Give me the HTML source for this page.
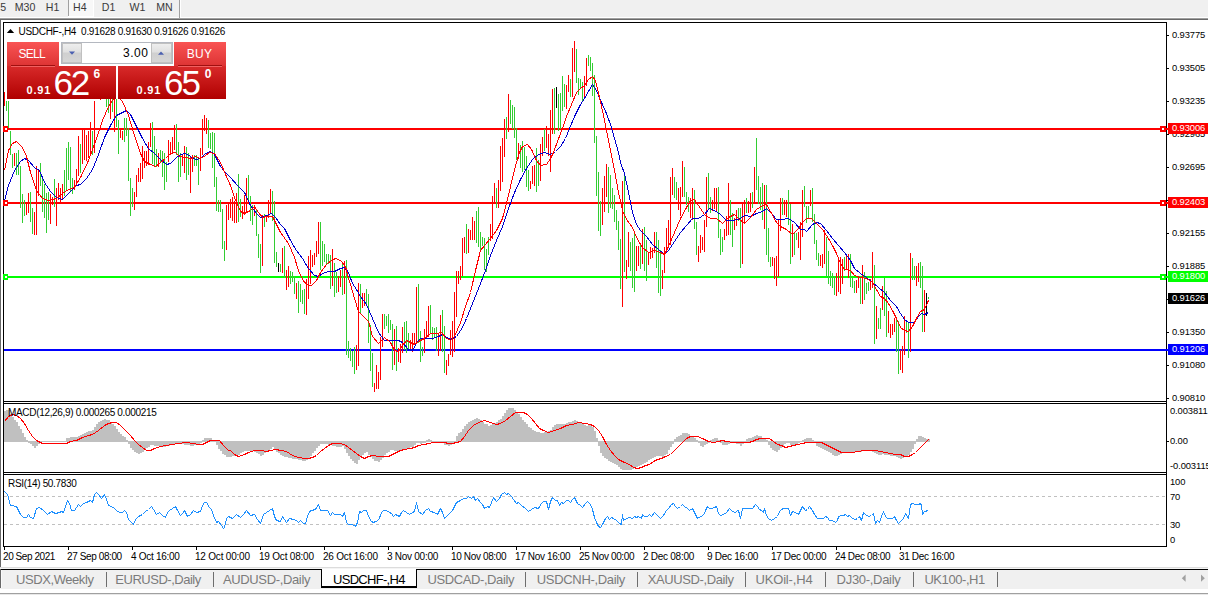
<!DOCTYPE html><html><head><meta charset="utf-8"><title>USDCHF-,H4</title><style>
*{margin:0;padding:0;box-sizing:border-box}
html,body{width:1208px;height:595px;overflow:hidden;background:#fff}
body{position:relative;font-family:"Liberation Sans",sans-serif;color:#000}
.a{position:absolute}
.t{position:absolute;white-space:nowrap;line-height:1}
.ax{position:absolute;white-space:nowrap;line-height:1;font-size:9.4px;left:1172px;letter-spacing:-0.1px}
.dt{position:absolute;white-space:nowrap;line-height:1;font-size:10.4px;top:550px;letter-spacing:-0.25px}
.tb{position:absolute;white-space:nowrap;line-height:1;font-size:10.6px;top:1.8px;color:#3a3a3a}
.tab{position:absolute;white-space:nowrap;line-height:1;font-size:13.6px;top:573px;color:#7b7b7b;letter-spacing:-0.1px}
.sep{position:absolute;top:572px;width:1px;height:15px;background:#6e6e6e}
.pl{position:absolute;left:1168px;width:40px;height:11px;color:#fff;font-size:9.4px;line-height:10px;padding-left:4px;letter-spacing:-0.1px;white-space:nowrap}
</style></head><body>
<div class="a" style="left:0;top:0;width:1208px;height:17px;background:#f0f0f0"></div>
<div class="a" style="left:0;top:18px;width:1208px;height:1px;background:#a0a0a0"></div>
<div class="a" style="left:0;top:19px;width:1208px;height:1px;background:#696969"></div>
<div class="a" style="left:68px;top:0;width:1px;height:16px;background:#a0a0a0"></div>
<div class="a" style="left:68px;top:0;width:26px;height:17px;background:#fff"></div>
<div class="a" style="left:68px;top:0;width:1px;height:16px;background:#a0a0a0"></div>
<div class="a" style="left:69px;top:0;width:24px;height:16px;background:#f8f8f8"></div>
<div class="a" style="left:179px;top:0;width:1px;height:18px;background:#a0a0a0"></div>
<div class="a" style="left:180px;top:0;width:1px;height:18px;background:#fff"></div>
<span class="tb" style="left:0.3px">5</span>
<span class="tb" style="left:14.7px">M30</span>
<span class="tb" style="left:45.8px">H1</span>
<span class="tb" style="left:73px">H4</span>
<span class="tb" style="left:101.8px">D1</span>
<span class="tb" style="left:129.6px">W1</span>
<span class="tb" style="left:156.2px">MN</span>
<div class="a" style="left:0;top:19px;width:1px;height:548px;background:#696969"></div>
<div class="a" style="left:3px;top:22px;width:1164px;height:1px;background:#000"></div>
<div class="a" style="left:3px;top:22px;width:1px;height:525px;background:#000"></div>
<div class="a" style="left:1166px;top:22px;width:1px;height:525px;background:#000"></div>
<div class="a" style="left:3px;top:401px;width:1164px;height:1px;background:#000"></div>
<div class="a" style="left:3px;top:403px;width:1164px;height:1px;background:#000"></div>
<div class="a" style="left:3px;top:472px;width:1164px;height:1px;background:#000"></div>
<div class="a" style="left:3px;top:474px;width:1164px;height:1px;background:#000"></div>
<div class="a" style="left:3px;top:546px;width:1164px;height:1px;background:#000"></div>
<svg class="a" style="left:0;top:0" width="1208" height="595" viewBox="0 0 1208 595">
<g shape-rendering="crispEdges">
<rect x="4" y="128" width="1164" height="2" fill="#ff0000"/>
<rect x="3" y="126" width="5" height="6" fill="#ff0000"/><rect x="5" y="128" width="2" height="2" fill="#fff"/>
<rect x="1160" y="126" width="6" height="6" fill="#ff0000"/><rect x="1162" y="128" width="2" height="2" fill="#fff"/>
<rect x="4" y="202" width="1164" height="2" fill="#ff0000"/>
<rect x="3" y="200" width="5" height="6" fill="#ff0000"/><rect x="5" y="202" width="2" height="2" fill="#fff"/>
<rect x="1160" y="200" width="6" height="6" fill="#ff0000"/><rect x="1162" y="202" width="2" height="2" fill="#fff"/>
<rect x="4" y="276" width="1164" height="2" fill="#00ff00"/>
<rect x="3" y="274" width="5" height="6" fill="#00ff00"/><rect x="5" y="276" width="2" height="2" fill="#fff"/>
<rect x="1160" y="274" width="6" height="6" fill="#00ff00"/><rect x="1162" y="276" width="2" height="2" fill="#fff"/>
<rect x="4" y="349" width="1164" height="2" fill="#0000ff"/>
</g>
<g shape-rendering="crispEdges">
<path d="M6 101v10h1v-10zM8 101v27h1v-27zM10 131v24h1v-24zM12 154v14h1v-14zM16 153v22h1v-22zM18 150v25h1v-25zM20 166v42h1v-42zM22 194v29h1v-29zM24 200v16h1v-16zM30 192v30h1v-30zM32 208v26h1v-26zM40 163v23h1v-23zM42 176v36h1v-36zM44 184v34h1v-34zM46 193v40h1v-40zM48 192v28h1v-28zM54 179v28h1v-28zM64 170v26h1v-26zM66 148v42h1v-42zM68 142v38h1v-38zM70 147v45h1v-45zM72 178v16h1v-16zM80 144v29h1v-29zM92 131v24h1v-24zM102 78v20h1v-20zM106 78v29h1v-29zM108 80v33h1v-33zM112 82v30h1v-30zM116 90v37h1v-37zM118 120v34h1v-34zM124 118v24h1v-24zM126 118v18h1v-18zM128 128v53h1v-53zM130 178v38h1v-38zM132 188v19h1v-19zM152 122v42h1v-42zM154 136v30h1v-30zM156 149v18h1v-18zM160 150v12h1v-12zM162 151v26h1v-26zM164 153v37h1v-37zM166 162v20h1v-20zM176 124v31h1v-31zM178 142v40h1v-40zM180 153v24h1v-24zM186 147v33h1v-33zM188 153v22h1v-22zM194 155v11h1v-11zM196 155v11h1v-11zM198 157v28h1v-28zM208 120v28h1v-28zM210 133v16h1v-16zM212 132v36h1v-36zM214 133v54h1v-54zM216 177v34h1v-34zM218 200v12h1v-12zM220 200v12h1v-12zM222 209v40h1v-40zM224 241v20h1v-20zM238 174v48h1v-48zM240 199v18h1v-18zM248 175v26h1v-26zM250 196v25h1v-25zM252 205v20h1v-20zM256 210v26h1v-26zM258 234v24h1v-24zM260 244v29h1v-29zM264 214v13h1v-13zM272 191v30h1v-30zM274 201v62h1v-62zM276 252v15h1v-15zM280 264v8h1v-8zM284 246v32h1v-32zM290 271v13h1v-13zM292 272v10h1v-10zM294 276v18h1v-18zM298 281v32h1v-32zM300 284v18h1v-18zM302 290v14h1v-14zM304 289v25h1v-25zM320 222v48h1v-48zM322 241v25h1v-25zM324 244v18h1v-18zM326 254v10h1v-10zM328 254v10h1v-10zM330 255v34h1v-34zM334 263v34h1v-34zM336 272v21h1v-21zM342 264v31h1v-31zM346 260v95h1v-95zM348 341v17h1v-17zM350 348v13h1v-13zM352 351v16h1v-16zM354 347v27h1v-27zM360 284v29h1v-29zM366 289v15h1v-15zM368 294v49h1v-49zM370 325v46h1v-46zM372 353v34h1v-34zM384 314v15h1v-15zM386 316v10h1v-10zM388 314v19h1v-19zM390 320v10h1v-10zM392 324v46h1v-46zM396 326v45h1v-45zM404 322v28h1v-28zM406 321v32h1v-32zM408 333v17h1v-17zM418 284v59h1v-59zM420 331v31h1v-31zM422 347v9h1v-9zM430 305v29h1v-29zM432 327v13h1v-13zM434 328v10h1v-10zM436 327v24h1v-24zM442 310v42h1v-42zM444 326v47h1v-47zM466 224v30h1v-30zM476 211v32h1v-32zM478 207v40h1v-40zM480 232v19h1v-19zM482 237v9h1v-9zM484 238v32h1v-32zM486 249v23h1v-23zM488 237v18h1v-18zM496 188v20h1v-20zM506 117v22h1v-22zM510 100v24h1v-24zM512 105v24h1v-24zM514 107v31h1v-31zM516 128v32h1v-32zM520 145v23h1v-23zM522 141v31h1v-31zM524 147v23h1v-23zM526 156v31h1v-31zM528 170v21h1v-21zM536 148v44h1v-44zM538 160v26h1v-26zM544 129v22h1v-22zM554 88v46h1v-46zM558 94v37h1v-37zM560 93v36h1v-36zM562 76v35h1v-35zM564 84v23h1v-23zM570 79v18h1v-18zM576 49v34h1v-34zM578 78v17h1v-17zM580 79v9h1v-9zM582 82v20h1v-20zM588 55v11h1v-11zM590 57v14h1v-14zM592 63v33h1v-33zM594 75v68h1v-68zM596 136v60h1v-60zM598 172v59h1v-59zM600 201v35h1v-35zM608 167v46h1v-46zM610 175v33h1v-33zM612 188v21h1v-21zM614 195v27h1v-27zM616 210v20h1v-20zM618 221v29h1v-29zM620 239v50h1v-50zM624 172v100h1v-100zM630 242v29h1v-29zM632 238v50h1v-50zM634 232v60h1v-60zM640 243v26h1v-26zM644 227v44h1v-44zM646 240v41h1v-41zM656 232v36h1v-36zM658 240v53h1v-53zM660 250v46h1v-46zM674 177v21h1v-21zM676 182v18h1v-18zM684 167v30h1v-30zM686 192v13h1v-13zM688 197v15h1v-15zM694 190v39h1v-39zM696 222v33h1v-33zM708 173v37h1v-37zM710 197v16h1v-16zM718 187v51h1v-51zM720 229v26h1v-26zM722 237v15h1v-15zM730 200v35h1v-35zM732 213v34h1v-34zM738 208v13h1v-13zM740 208v60h1v-60zM746 198v15h1v-15zM752 192v16h1v-16zM756 138v52h1v-52zM758 176v28h1v-28zM760 187v23h1v-23zM762 183v37h1v-37zM766 185v70h1v-70zM768 228v34h1v-34zM770 257v10h1v-10zM782 198v17h1v-17zM788 190v35h1v-35zM790 204v60h1v-60zM794 233v22h1v-22zM796 233v7h1v-7zM804 186v21h1v-21zM806 206v17h1v-17zM808 206v12h1v-12zM812 188v34h1v-34zM814 214v30h1v-30zM816 240v20h1v-20zM818 253v13h1v-13zM826 237v39h1v-39zM828 251v33h1v-33zM830 271v15h1v-15zM832 273v15h1v-15zM834 276v19h1v-19zM844 257v14h1v-14zM850 254v33h1v-33zM852 278v10h1v-10zM854 281v12h1v-12zM860 276v28h1v-28zM864 272v28h1v-28zM866 283v11h1v-11zM868 282v9h1v-9zM874 265v79h1v-79zM878 318v11h1v-11zM880 308v21h1v-21zM884 278v38h1v-38zM886 291v46h1v-46zM896 318v34h1v-34zM898 321v53h1v-53zM906 322v11h1v-11zM908 323v35h1v-35zM912 258v22h1v-22zM914 266v14h1v-14zM920 262v26h1v-26zM922 266v66h1v-66zM928 297v2h1v-2z" fill="#32cd32"/>
<path d="M4 92v14h1v-14zM14 153v13h1v-13zM26 204v11h1v-11zM28 193v20h1v-20zM34 212v23h1v-23zM36 166v69h1v-69zM38 170v26h1v-26zM50 194v30h1v-30zM52 197v8h1v-8zM56 188v38h1v-38zM58 183v17h1v-17zM60 188v16h1v-16zM62 184v16h1v-16zM74 180v10h1v-10zM76 169v17h1v-17zM78 136v40h1v-40zM82 129v35h1v-35zM84 130v30h1v-30zM86 135v26h1v-26zM88 131v27h1v-27zM90 122v33h1v-33zM94 101v52h1v-52zM96 80v18h1v-18zM98 80v18h1v-18zM100 80v20h1v-20zM104 76v22h1v-22zM110 84v35h1v-35zM114 85v47h1v-47zM120 129v9h1v-9zM122 131v9h1v-9zM134 192v18h1v-18zM136 175v22h1v-22zM138 168v14h1v-14zM140 163v19h1v-19zM142 146v33h1v-33zM144 151v17h1v-17zM146 151v15h1v-15zM148 142v23h1v-23zM150 123v24h1v-24zM158 153v14h1v-14zM168 140v22h1v-22zM170 142v13h1v-13zM172 137v16h1v-16zM174 125v25h1v-25zM182 155v11h1v-11zM184 146v27h1v-27zM190 156v37h1v-37zM192 155v17h1v-17zM200 148v23h1v-23zM202 119v36h1v-36zM204 115v16h1v-16zM206 118v16h1v-16zM226 205v45h1v-45zM228 204v16h1v-16zM230 199v19h1v-19zM232 197v24h1v-24zM234 201v22h1v-22zM236 193v30h1v-30zM242 206v13h1v-13zM244 195v20h1v-20zM246 178v35h1v-35zM254 205v11h1v-11zM262 215v51h1v-51zM266 215v7h1v-7zM268 200v18h1v-18zM270 189v25h1v-25zM282 248v25h1v-25zM286 270v20h1v-20zM288 266v21h1v-21zM296 283v16h1v-16zM306 279v36h1v-36zM308 256v43h1v-43zM310 250v34h1v-34zM312 255v12h1v-12zM314 253v12h1v-12zM316 241v16h1v-16zM318 222v32h1v-32zM332 249v37h1v-37zM338 276v16h1v-16zM340 270v17h1v-17zM344 261v33h1v-33zM356 345v25h1v-25zM358 283v83h1v-83zM362 293v15h1v-15zM364 293v13h1v-13zM374 383v9h1v-9zM376 365v24h1v-24zM378 372v17h1v-17zM380 337v43h1v-43zM382 314v33h1v-33zM394 329v36h1v-36zM398 348v14h1v-14zM400 344v19h1v-19zM402 327v26h1v-26zM410 340v11h1v-11zM412 333v19h1v-19zM414 333v12h1v-12zM416 287v56h1v-56zM424 329v24h1v-24zM426 321v18h1v-18zM428 306v31h1v-31zM438 334v22h1v-22zM440 315v36h1v-36zM446 360v15h1v-15zM448 354v12h1v-12zM450 330v25h1v-25zM452 321v36h1v-36zM454 292v60h1v-60zM456 271v46h1v-46zM458 271v13h1v-13zM460 266v14h1v-14zM462 238v38h1v-38zM464 237v16h1v-16zM468 229v24h1v-24zM470 230v10h1v-10zM472 217v23h1v-23zM474 221v19h1v-19zM490 224v17h1v-17zM492 196v43h1v-43zM494 183v20h1v-20zM498 180v28h1v-28zM500 146v45h1v-45zM502 138v44h1v-44zM504 119v38h1v-38zM508 94v38h1v-38zM518 143v16h1v-16zM530 181v8h1v-8zM532 166v18h1v-18zM534 165v21h1v-21zM540 144v37h1v-37zM542 137v19h1v-19zM546 126v22h1v-22zM548 134v22h1v-22zM550 110v62h1v-62zM552 89v45h1v-45zM566 85v24h1v-24zM568 75v17h1v-17zM572 48v49h1v-49zM574 41v31h1v-31zM584 76v23h1v-23zM586 58v28h1v-28zM602 188v37h1v-37zM604 176v36h1v-36zM606 164v33h1v-33zM622 181v126h1v-126zM626 260v19h1v-19zM628 232v35h1v-35zM636 246v25h1v-25zM638 246v20h1v-20zM642 229v35h1v-35zM648 253v12h1v-12zM650 247v12h1v-12zM652 248v10h1v-10zM654 232v21h1v-21zM662 270v19h1v-19zM664 247v26h1v-26zM666 228v23h1v-23zM668 220v27h1v-27zM670 177v68h1v-68zM672 168v27h1v-27zM678 188v22h1v-22zM680 187v29h1v-29zM682 161v36h1v-36zM690 198v20h1v-20zM692 188v32h1v-32zM698 246v16h1v-16zM700 235v18h1v-18zM702 237v13h1v-13zM704 220v32h1v-32zM706 177v50h1v-50zM712 200v11h1v-11zM714 188v21h1v-21zM716 188v23h1v-23zM724 229v11h1v-11zM726 216v20h1v-20zM728 183v52h1v-52zM734 218v12h1v-12zM736 210v16h1v-16zM742 203v61h1v-61zM744 200v23h1v-23zM748 201v12h1v-12zM750 193v19h1v-19zM754 167v35h1v-35zM764 185v44h1v-44zM772 257v9h1v-9zM774 258v21h1v-21zM776 256v30h1v-30zM778 219v58h1v-58zM780 198v33h1v-33zM784 200v15h1v-15zM786 200v17h1v-17zM792 224v33h1v-33zM798 232v16h1v-16zM800 222v38h1v-38zM802 190v47h1v-47zM810 190v16h1v-16zM820 255v11h1v-11zM822 254v14h1v-14zM824 230v34h1v-34zM836 273v23h1v-23zM838 258v34h1v-34zM840 257v37h1v-37zM842 259v25h1v-25zM846 256v14h1v-14zM848 254v24h1v-24zM856 280v13h1v-13zM858 277v11h1v-11zM862 265v39h1v-39zM870 279v11h1v-11zM872 252v36h1v-36zM876 306v33h1v-33zM882 286v24h1v-24zM888 311v22h1v-22zM890 324v14h1v-14zM892 324v11h1v-11zM894 318v14h1v-14zM900 350v20h1v-20zM902 346v27h1v-27zM904 316v39h1v-39zM910 253v99h1v-99zM916 266v20h1v-20zM918 263v19h1v-19zM924 290v42h1v-42z" fill="#ff0000"/>
<path d="M278 263v9h1v-9zM556 87v21h1v-21zM926 293v23h1v-23z" fill="#000000"/>
</g>
<path d="M4.5 200.5 L8.5 185.5 L14.5 170.5 L20.5 161.5 L24.5 158.5 L28.5 160.5 L34.5 167.5 L39.5 170.5 L44.5 182.5 L50.5 191.5 L56.5 197.5 L62.5 199.5 L66.5 195.5 L70.5 191.5 L76.5 185.5 L80.5 184.5 L86.5 178.5 L92.5 169.5 L98.5 154.5 L104.5 137.5 L110.5 125.5 L116.5 115.5 L122.5 112.5 L126.5 110.5 L130.5 114.5 L136.5 126.5 L142.5 138.5 L148.5 148.5 L154.5 153.5 L160.5 159.5 L166.5 164.5 L170.5 163.5 L176.5 157.5 L180.5 154.5 L185.5 153.5 L190.5 156.5 L195.5 159.5 L200.5 158.5 L205.5 153.5 L210.5 151.5 L214.5 154.5 L220.5 166.5 L225.5 172.5 L230.5 177.5 L238.5 186.5 L244.5 192.5 L250.5 205.5 L256.5 213.5 L260.5 217.5 L266.5 215.5 L271.5 213.5 L275.5 217.5 L280.5 224.5 L284.5 228.5 L290.5 240.5 L296.5 250.5 L302.5 258.5 L308.5 268.5 L314.5 275.5 L318.5 276.5 L322.5 273.5 L328.5 271.5 L334.5 271.5 L340.5 268.5 L344.5 267.5 L348.5 272.5 L352.5 283.5 L356.5 289.5 L360.5 296.5 L366.5 304.5 L372.5 318.5 L378.5 332.5 L384.5 340.5 L390.5 340.5 L398.5 340.5 L402.5 342.5 L408.5 349.5 L412.5 350.5 L416.5 343.5 L420.5 338.5 L426.5 338.5 L432.5 338.5 L438.5 336.5 L442.5 334.5 L446.5 337.5 L450.5 339.5 L456.5 336.5 L462.5 327.5 L466.5 318.5 L470.5 308.5 L478.5 288.5 L485.5 270.5 L490.5 255.5 L496.5 240.5 L502.5 226.5 L508.5 208.5 L514.5 192.5 L520.5 179.5 L526.5 168.5 L532.5 159.5 L538.5 154.5 L544.5 152.5 L550.5 154.5 L555.5 151.5 L560.5 146.5 L565.5 138.5 L569.5 128.5 L574.5 116.5 L580.5 104.5 L584.5 98.5 L588.5 91.5 L592.5 84.5 L596.5 90.5 L601.5 102.5 L606.5 113.5 L610.5 124.5 L614.5 138.5 L618.5 152.5 L620.5 162.5 L624.5 173.5 L628.5 192.5 L632.5 212.5 L636.5 224.5 L640.5 230.5 L646.5 236.5 L652.5 244.5 L658.5 249.5 L664.5 254.5 L668.5 250.5 L674.5 241.5 L680.5 232.5 L686.5 225.5 L692.5 218.5 L698.5 218.5 L704.5 214.5 L709.5 208.5 L714.5 210.5 L720.5 214.5 L726.5 220.5 L732.5 220.5 L738.5 219.5 L744.5 215.5 L750.5 216.5 L756.5 213.5 L762.5 211.5 L766.5 208.5 L770.5 212.5 L776.5 219.5 L782.5 219.5 L788.5 218.5 L794.5 222.5 L800.5 229.5 L804.5 229.5 L806.5 231.5 L812.5 224.5 L816.5 222.5 L820.5 223.5 L826.5 230.5 L832.5 238.5 L838.5 245.5 L844.5 252.5 L850.5 260.5 L854.5 268.5 L860.5 273.5 L866.5 277.5 L872.5 282.5 L878.5 287.5 L884.5 292.5 L890.5 300.5 L896.5 306.5 L900.5 313.5 L904.5 319.5 L908.5 322.5 L914.5 322.5 L918.5 316.5 L921.5 313.5 L924.5 314.5 L928.5 312.5" fill="none" stroke="#0000cd" stroke-width="1" stroke-linejoin="round" shape-rendering="crispEdges"/>
<path d="M4.5 170.5 L8.5 150.5 L12.5 143.5 L16.5 141.5 L22.5 147.5 L26.5 156.5 L30.5 172.5 L36.5 190.5 L42.5 198.5 L48.5 200.5 L56.5 198.5 L62.5 193.5 L68.5 189.5 L74.5 187.5 L80.5 177.5 L88.5 160.5 L96.5 138.5 L102.5 120.5 L108.5 106.5 L112.5 100.5 L117.5 96.5 L122.5 101.5 L128.5 115.5 L134.5 135.5 L140.5 153.5 L144.5 161.5 L150.5 164.5 L155.5 166.5 L160.5 162.5 L165.5 158.5 L170.5 153.5 L175.5 152.5 L179.5 156.5 L185.5 157.5 L190.5 158.5 L195.5 156.5 L200.5 158.5 L205.5 155.5 L209.5 152.5 L214.5 153.5 L220.5 162.5 L225.5 174.5 L230.5 185.5 L234.5 197.5 L240.5 211.5 L244.5 213.5 L250.5 210.5 L254.5 206.5 L258.5 212.5 L262.5 217.5 L266.5 216.5 L272.5 216.5 L276.5 224.5 L280.5 232.5 L288.5 243.5 L294.5 257.5 L298.5 270.5 L302.5 279.5 L306.5 284.5 L311.5 285.5 L316.5 280.5 L320.5 272.5 L326.5 264.5 L332.5 259.5 L336.5 258.5 L341.5 261.5 L345.5 266.5 L348.5 278.5 L350.5 284.5 L354.5 298.5 L358.5 311.5 L364.5 317.5 L368.5 321.5 L372.5 336.5 L378.5 343.5 L381.5 340.5 L384.5 337.5 L390.5 342.5 L394.5 350.5 L398.5 351.5 L402.5 345.5 L406.5 340.5 L410.5 342.5 L414.5 344.5 L418.5 341.5 L424.5 338.5 L430.5 333.5 L436.5 333.5 L441.5 332.5 L445.5 337.5 L450.5 340.5 L454.5 336.5 L460.5 322.5 L465.5 306.5 L470.5 292.5 L475.5 270.5 L480.5 250.5 L490.5 238.5 L496.5 230.5 L502.5 218.5 L508.5 195.5 L512.5 177.5 L516.5 162.5 L519.5 152.5 L522.5 146.5 L527.5 144.5 L531.5 149.5 L536.5 160.5 L540.5 165.5 L546.5 164.5 L550.5 158.5 L553.5 152.5 L557.5 141.5 L562.5 128.5 L566.5 116.5 L571.5 104.5 L576.5 92.5 L580.5 88.5 L584.5 85.5 L588.5 79.5 L592.5 76.5 L595.5 80.5 L599.5 97.5 L603.5 115.5 L606.5 130.5 L610.5 150.5 L614.5 170.5 L618.5 192.5 L622.5 210.5 L626.5 219.5 L632.5 227.5 L636.5 237.5 L642.5 247.5 L648.5 252.5 L654.5 250.5 L660.5 252.5 L664.5 254.5 L668.5 246.5 L674.5 232.5 L680.5 218.5 L686.5 207.5 L690.5 200.5 L694.5 199.5 L698.5 205.5 L704.5 214.5 L710.5 218.5 L716.5 218.5 L722.5 223.5 L728.5 217.5 L734.5 214.5 L738.5 218.5 L744.5 223.5 L750.5 217.5 L756.5 209.5 L762.5 205.5 L766.5 204.5 L770.5 211.5 L776.5 222.5 L780.5 226.5 L786.5 229.5 L792.5 234.5 L798.5 228.5 L802.5 222.5 L806.5 218.5 L811.5 218.5 L816.5 223.5 L822.5 229.5 L828.5 238.5 L832.5 245.5 L836.5 253.5 L840.5 263.5 L844.5 269.5 L850.5 270.5 L854.5 275.5 L860.5 277.5 L866.5 278.5 L872.5 282.5 L876.5 289.5 L880.5 296.5 L884.5 298.5 L888.5 303.5 L892.5 310.5 L896.5 318.5 L900.5 327.5 L904.5 330.5 L908.5 331.5 L912.5 326.5 L916.5 318.5 L920.5 311.5 L924.5 309.5 L928.5 300.5" fill="none" stroke="#ff0000" stroke-width="1" stroke-linejoin="round" shape-rendering="crispEdges"/>
<g shape-rendering="crispEdges">
<path d="M4 411h2v31h-2zM6 410h2v32h-2zM8 410h2v32h-2zM10 414h2v28h-2zM12 417h2v25h-2zM14 420h2v22h-2zM16 422h2v20h-2zM18 426h2v16h-2zM20 429h2v13h-2zM22 433h2v9h-2zM24 437h2v5h-2zM26 440h2v2h-2zM28 441h2v2h-2zM30 441h2v3h-2zM32 441h2v5h-2zM34 441h2v7h-2zM36 441h2v5h-2zM38 441h2v3h-2zM40 441h2v1h-2zM42 441h2v1h-2zM44 441h2v1h-2zM46 441h2v1h-2zM48 441h2v1h-2zM50 441h2v1h-2zM52 441h2v1h-2zM54 441h2v1h-2zM56 441h2v1h-2zM58 441h2v1h-2zM60 441h2v1h-2zM62 441h2v1h-2zM64 441h2v1h-2zM66 438h2v4h-2zM68 438h2v4h-2zM70 437h2v5h-2zM72 437h2v5h-2zM74 437h2v5h-2zM76 437h2v5h-2zM78 436h2v6h-2zM80 435h2v7h-2zM82 434h2v8h-2zM84 433h2v9h-2zM86 432h2v10h-2zM88 431h2v11h-2zM90 431h2v11h-2zM92 430h2v12h-2zM94 427h2v15h-2zM96 424h2v18h-2zM98 422h2v20h-2zM100 421h2v21h-2zM102 420h2v22h-2zM104 419h2v23h-2zM106 420h2v22h-2zM108 420h2v22h-2zM110 422h2v20h-2zM112 424h2v18h-2zM114 426h2v16h-2zM116 429h2v13h-2zM118 432h2v10h-2zM120 434h2v8h-2zM122 436h2v6h-2zM124 437h2v5h-2zM126 440h2v2h-2zM128 441h2v3h-2zM130 441h2v7h-2zM132 441h2v9h-2zM134 441h2v11h-2zM136 441h2v12h-2zM138 441h2v13h-2zM140 441h2v12h-2zM142 441h2v11h-2zM144 441h2v9h-2zM146 441h2v7h-2zM148 441h2v6h-2zM150 441h2v4h-2zM152 441h2v4h-2zM154 441h2v5h-2zM156 441h2v5h-2zM158 441h2v5h-2zM160 441h2v6h-2zM162 441h2v6h-2zM164 441h2v6h-2zM166 441h2v5h-2zM168 441h2v5h-2zM170 441h2v4h-2zM172 441h2v4h-2zM174 441h2v3h-2zM176 441h2v3h-2zM178 441h2v3h-2zM180 441h2v3h-2zM182 441h2v3h-2zM184 441h2v4h-2zM186 441h2v4h-2zM188 441h2v4h-2zM190 441h2v5h-2zM192 441h2v5h-2zM194 441h2v4h-2zM196 441h2v4h-2zM198 441h2v3h-2zM200 441h2v2h-2zM202 440h2v2h-2zM204 438h2v4h-2zM206 438h2v4h-2zM208 438h2v4h-2zM210 438h2v4h-2zM212 440h2v2h-2zM214 441h2v1h-2zM216 441h2v4h-2zM218 441h2v8h-2zM220 441h2v10h-2zM222 441h2v13h-2zM224 441h2v14h-2zM226 441h2v16h-2zM228 441h2v16h-2zM230 441h2v16h-2zM232 441h2v15h-2zM234 441h2v15h-2zM236 441h2v14h-2zM238 441h2v14h-2zM240 441h2v12h-2zM242 441h2v11h-2zM244 441h2v10h-2zM246 441h2v10h-2zM248 441h2v10h-2zM250 441h2v10h-2zM252 441h2v10h-2zM254 441h2v11h-2zM256 441h2v12h-2zM258 441h2v13h-2zM260 441h2v15h-2zM262 441h2v14h-2zM264 441h2v12h-2zM266 441h2v11h-2zM268 441h2v10h-2zM270 441h2v8h-2zM272 441h2v6h-2zM274 441h2v8h-2zM276 441h2v11h-2zM278 441h2v12h-2zM280 441h2v14h-2zM282 441h2v15h-2zM284 441h2v16h-2zM286 441h2v16h-2zM288 441h2v17h-2zM290 441h2v17h-2zM292 441h2v18h-2zM294 441h2v18h-2zM296 441h2v18h-2zM298 441h2v19h-2zM300 441h2v19h-2zM302 441h2v20h-2zM304 441h2v20h-2zM306 441h2v19h-2zM308 441h2v18h-2zM310 441h2v15h-2zM312 441h2v12h-2zM314 441h2v10h-2zM316 441h2v7h-2zM318 441h2v5h-2zM320 441h2v3h-2zM322 441h2v3h-2zM324 441h2v3h-2zM326 441h2v3h-2zM328 441h2v4h-2zM330 441h2v4h-2zM332 441h2v5h-2zM334 441h2v5h-2zM336 441h2v6h-2zM338 441h2v6h-2zM340 441h2v6h-2zM342 441h2v5h-2zM344 441h2v8h-2zM346 441h2v12h-2zM348 441h2v15h-2zM350 441h2v18h-2zM352 441h2v20h-2zM354 441h2v22h-2zM356 441h2v23h-2zM358 441h2v19h-2zM360 441h2v16h-2zM362 441h2v14h-2zM364 441h2v12h-2zM366 441h2v11h-2zM368 441h2v14h-2zM370 441h2v16h-2zM372 441h2v18h-2zM374 441h2v20h-2zM376 441h2v20h-2zM378 441h2v21h-2zM380 441h2v19h-2zM382 441h2v17h-2zM384 441h2v14h-2zM386 441h2v12h-2zM388 441h2v11h-2zM390 441h2v9h-2zM392 441h2v9h-2zM394 441h2v10h-2zM396 441h2v10h-2zM398 441h2v10h-2zM400 441h2v10h-2zM402 441h2v9h-2zM404 441h2v8h-2zM406 441h2v8h-2zM408 441h2v7h-2zM410 441h2v6h-2zM412 441h2v6h-2zM414 441h2v4h-2zM416 441h2v2h-2zM418 441h2v2h-2zM420 441h2v3h-2zM422 441h2v2h-2zM424 441h2v2h-2zM426 440h2v2h-2zM428 439h2v3h-2zM430 440h2v2h-2zM432 441h2v1h-2zM434 441h2v1h-2zM436 441h2v1h-2zM438 441h2v1h-2zM440 441h2v1h-2zM442 441h2v2h-2zM444 441h2v4h-2zM446 441h2v4h-2zM448 441h2v5h-2zM450 441h2v4h-2zM452 441h2v3h-2zM454 441h2v1h-2zM456 436h2v6h-2zM458 433h2v9h-2zM460 432h2v10h-2zM462 429h2v13h-2zM464 426h2v16h-2zM466 424h2v18h-2zM468 422h2v20h-2zM470 421h2v21h-2zM472 420h2v22h-2zM474 419h2v23h-2zM476 418h2v24h-2zM478 419h2v23h-2zM480 420h2v22h-2zM482 422h2v20h-2zM484 424h2v18h-2zM486 424h2v18h-2zM488 426h2v16h-2zM490 425h2v17h-2zM492 424h2v18h-2zM494 423h2v19h-2zM496 422h2v20h-2zM498 420h2v22h-2zM500 419h2v23h-2zM502 416h2v26h-2zM504 413h2v29h-2zM506 410h2v32h-2zM508 408h2v34h-2zM510 408h2v34h-2zM512 408h2v34h-2zM514 410h2v32h-2zM516 412h2v30h-2zM518 414h2v28h-2zM520 417h2v25h-2zM522 420h2v22h-2zM524 422h2v20h-2zM526 424h2v18h-2zM528 427h2v15h-2zM530 428h2v14h-2zM532 430h2v12h-2zM534 431h2v11h-2zM536 432h2v10h-2zM538 432h2v10h-2zM540 433h2v9h-2zM542 433h2v9h-2zM544 432h2v10h-2zM546 432h2v10h-2zM548 431h2v11h-2zM550 430h2v12h-2zM552 427h2v15h-2zM554 425h2v17h-2zM556 424h2v18h-2zM558 424h2v18h-2zM560 424h2v18h-2zM562 424h2v18h-2zM564 424h2v18h-2zM566 423h2v19h-2zM568 422h2v20h-2zM570 422h2v20h-2zM572 421h2v21h-2zM574 420h2v22h-2zM576 421h2v21h-2zM578 422h2v20h-2zM580 423h2v19h-2zM582 424h2v18h-2zM584 425h2v17h-2zM586 426h2v16h-2zM588 425h2v17h-2zM590 424h2v18h-2zM592 427h2v15h-2zM594 431h2v11h-2zM596 438h2v4h-2zM598 441h2v5h-2zM600 441h2v12h-2zM602 441h2v15h-2zM604 441h2v17h-2zM606 441h2v18h-2zM608 441h2v20h-2zM610 441h2v21h-2zM612 441h2v22h-2zM614 441h2v23h-2zM616 441h2v24h-2zM618 441h2v26h-2zM620 441h2v28h-2zM622 441h2v29h-2zM624 441h2v29h-2zM626 441h2v29h-2zM628 441h2v29h-2zM630 441h2v29h-2zM632 441h2v28h-2zM634 441h2v27h-2zM636 441h2v26h-2zM638 441h2v25h-2zM640 441h2v24h-2zM642 441h2v23h-2zM644 441h2v22h-2zM646 441h2v21h-2zM648 441h2v19h-2zM650 441h2v18h-2zM652 441h2v17h-2zM654 441h2v16h-2zM656 441h2v15h-2zM658 441h2v15h-2zM660 441h2v15h-2zM662 441h2v16h-2zM664 441h2v14h-2zM666 441h2v13h-2zM668 441h2v9h-2zM670 441h2v6h-2zM672 441h2v3h-2zM674 439h2v3h-2zM676 437h2v5h-2zM678 436h2v6h-2zM680 435h2v7h-2zM682 433h2v9h-2zM684 433h2v9h-2zM686 433h2v9h-2zM688 434h2v8h-2zM690 436h2v6h-2zM692 437h2v5h-2zM694 438h2v4h-2zM696 440h2v2h-2zM698 441h2v2h-2zM700 441h2v5h-2zM702 441h2v6h-2zM704 441h2v4h-2zM706 441h2v3h-2zM708 441h2v2h-2zM710 440h2v2h-2zM712 439h2v3h-2zM714 438h2v4h-2zM716 438h2v4h-2zM718 440h2v2h-2zM720 441h2v2h-2zM722 441h2v4h-2zM724 441h2v4h-2zM726 441h2v4h-2zM728 441h2v3h-2zM730 441h2v2h-2zM732 441h2v2h-2zM734 441h2v2h-2zM736 441h2v3h-2zM738 441h2v3h-2zM740 441h2v5h-2zM742 441h2v3h-2zM744 441h2v2h-2zM746 439h2v3h-2zM748 438h2v4h-2zM750 438h2v4h-2zM752 437h2v5h-2zM754 436h2v6h-2zM756 435h2v7h-2zM758 436h2v6h-2zM760 436h2v6h-2zM762 438h2v4h-2zM764 439h2v3h-2zM766 440h2v2h-2zM768 441h2v4h-2zM770 441h2v7h-2zM772 441h2v9h-2zM774 441h2v10h-2zM776 441h2v11h-2zM778 441h2v9h-2zM780 441h2v7h-2zM782 441h2v5h-2zM784 441h2v3h-2zM786 441h2v2h-2zM788 441h2v2h-2zM790 441h2v4h-2zM792 441h2v5h-2zM794 441h2v4h-2zM796 441h2v3h-2zM798 441h2v2h-2zM800 441h2v1h-2zM802 440h2v2h-2zM804 439h2v3h-2zM806 438h2v4h-2zM808 438h2v4h-2zM810 438h2v4h-2zM812 440h2v2h-2zM814 441h2v2h-2zM816 441h2v5h-2zM818 441h2v6h-2zM820 441h2v7h-2zM822 441h2v8h-2zM824 441h2v9h-2zM826 441h2v10h-2zM828 441h2v11h-2zM830 441h2v12h-2zM832 441h2v14h-2zM834 441h2v15h-2zM836 441h2v15h-2zM838 441h2v14h-2zM840 441h2v13h-2zM842 441h2v12h-2zM844 441h2v12h-2zM846 441h2v11h-2zM848 441h2v11h-2zM850 441h2v11h-2zM852 441h2v11h-2zM854 441h2v11h-2zM856 441h2v11h-2zM858 441h2v11h-2zM860 441h2v11h-2zM862 441h2v10h-2zM864 441h2v10h-2zM866 441h2v10h-2zM868 441h2v10h-2zM870 441h2v10h-2zM872 441h2v11h-2zM874 441h2v12h-2zM876 441h2v13h-2zM878 441h2v14h-2zM880 441h2v14h-2zM882 441h2v13h-2zM884 441h2v14h-2zM886 441h2v14h-2zM888 441h2v14h-2zM890 441h2v15h-2zM892 441h2v15h-2zM894 441h2v15h-2zM896 441h2v16h-2zM898 441h2v17h-2zM900 441h2v18h-2zM902 441h2v17h-2zM904 441h2v16h-2zM906 441h2v15h-2zM908 441h2v14h-2zM910 441h2v11h-2zM912 441h2v8h-2zM914 441h2v3h-2zM916 439h2v3h-2zM918 436h2v6h-2zM920 436h2v6h-2zM922 437h2v5h-2zM924 438h2v4h-2zM926 439h2v3h-2zM928 439h2v3h-2z" fill="#c0c0c0"/>
</g>
<path d="M4.5 421.5 L8.5 416.5 L12.5 414.5 L16.5 415.5 L20.5 418.5 L24.5 423.5 L28.5 430.5 L32.5 436.5 L36.5 440.5 L42.5 443.5 L50.5 443.5 L58.5 443.5 L66.5 443.5 L70.5 441.5 L76.5 440.5 L82.5 437.5 L88.5 435.5 L92.5 434.5 L98.5 430.5 L104.5 425.5 L108.5 423.5 L112.5 422.5 L116.5 422.5 L120.5 425.5 L126.5 431.5 L130.5 435.5 L134.5 440.5 L138.5 444.5 L142.5 447.5 L146.5 450.5 L150.5 450.5 L154.5 448.5 L160.5 446.5 L166.5 445.5 L172.5 444.5 L178.5 443.5 L186.5 442.5 L192.5 443.5 L198.5 444.5 L202.5 444.5 L206.5 442.5 L210.5 440.5 L215.5 440.5 L219.5 440.5 L223.5 445.5 L228.5 450.5 L230.5 450.5 L234.5 454.5 L238.5 456.5 L244.5 454.5 L248.5 452.5 L254.5 450.5 L260.5 450.5 L266.5 451.5 L270.5 450.5 L276.5 449.5 L280.5 450.5 L286.5 451.5 L292.5 455.5 L298.5 457.5 L304.5 458.5 L308.5 458.5 L312.5 457.5 L316.5 455.5 L320.5 451.5 L324.5 448.5 L328.5 445.5 L332.5 443.5 L338.5 443.5 L344.5 444.5 L348.5 447.5 L352.5 450.5 L356.5 453.5 L360.5 456.5 L364.5 458.5 L368.5 456.5 L372.5 455.5 L378.5 456.5 L384.5 456.5 L388.5 456.5 L392.5 454.5 L396.5 452.5 L400.5 450.5 L404.5 449.5 L410.5 448.5 L414.5 447.5 L418.5 445.5 L424.5 444.5 L428.5 443.5 L434.5 442.5 L440.5 442.5 L444.5 442.5 L448.5 443.5 L452.5 443.5 L456.5 442.5 L460.5 441.5 L464.5 436.5 L468.5 430.5 L473.5 425.5 L478.5 422.5 L484.5 420.5 L490.5 422.5 L496.5 424.5 L500.5 423.5 L505.5 420.5 L510.5 416.5 L515.5 412.5 L519.5 412.5 L523.5 412.5 L527.5 414.5 L531.5 418.5 L535.5 423.5 L539.5 428.5 L543.5 430.5 L548.5 432.5 L554.5 430.5 L560.5 428.5 L566.5 425.5 L572.5 424.5 L578.5 422.5 L584.5 423.5 L590.5 424.5 L594.5 426.5 L598.5 430.5 L602.5 436.5 L606.5 444.5 L610.5 450.5 L614.5 455.5 L618.5 459.5 L624.5 462.5 L629.5 464.5 L633.5 467.5 L637.5 468.5 L641.5 467.5 L645.5 465.5 L649.5 464.5 L653.5 461.5 L657.5 459.5 L661.5 458.5 L665.5 456.5 L670.5 454.5 L674.5 450.5 L678.5 446.5 L682.5 442.5 L686.5 438.5 L690.5 436.5 L694.5 436.5 L697.5 436.5 L702.5 438.5 L708.5 441.5 L713.5 442.5 L718.5 441.5 L722.5 440.5 L726.5 441.5 L732.5 442.5 L738.5 442.5 L744.5 442.5 L748.5 442.5 L752.5 441.5 L756.5 439.5 L760.5 438.5 L764.5 438.5 L769.5 438.5 L773.5 441.5 L777.5 444.5 L781.5 445.5 L785.5 447.5 L789.5 446.5 L793.5 445.5 L797.5 444.5 L802.5 443.5 L806.5 442.5 L812.5 442.5 L817.5 442.5 L821.5 442.5 L825.5 444.5 L829.5 446.5 L833.5 448.5 L837.5 450.5 L841.5 452.5 L846.5 452.5 L852.5 452.5 L858.5 451.5 L863.5 450.5 L869.5 450.5 L875.5 450.5 L880.5 451.5 L885.5 452.5 L890.5 453.5 L895.5 454.5 L900.5 454.5 L904.5 456.5 L908.5 456.5 L912.5 454.5 L915.5 452.5 L918.5 449.5 L921.5 446.5 L925.5 442.5 L928.5 439.5" fill="none" stroke="#ff0000" stroke-width="1" stroke-linejoin="round" shape-rendering="crispEdges"/>
<g shape-rendering="crispEdges">
<line x1="4" y1="496.5" x2="1166" y2="496.5" stroke="#c0c0c0" stroke-width="1" stroke-dasharray="3 3"/>
<line x1="4" y1="524.5" x2="1166" y2="524.5" stroke="#c0c0c0" stroke-width="1" stroke-dasharray="3 3"/>
</g>
<path d="M4.5 491.5 L7.5 494.5 L10.5 505.5 L16.5 506.5 L20.5 514.5 L23.5 517.5 L26.5 517.5 L28.5 514.5 L30.5 517.5 L33.5 518.5 L36.5 508.5 L39.5 507.5 L43.5 510.5 L47.5 514.5 L51.5 511.5 L55.5 513.5 L59.5 512.5 L61.5 511.5 L63.5 512.5 L65.5 506.5 L67.5 500.5 L69.5 503.5 L71.5 510.5 L74.5 510.5 L78.5 504.5 L80.5 506.5 L83.5 503.5 L86.5 502.5 L90.5 500.5 L92.5 502.5 L94.5 494.5 L96.5 492.5 L98.5 494.5 L101.5 498.5 L104.5 494.5 L106.5 499.5 L108.5 505.5 L111.5 506.5 L114.5 508.5 L117.5 511.5 L120.5 512.5 L122.5 512.5 L124.5 510.5 L126.5 512.5 L128.5 519.5 L131.5 522.5 L133.5 524.5 L135.5 519.5 L138.5 516.5 L142.5 514.5 L145.5 511.5 L148.5 509.5 L151.5 506.5 L153.5 509.5 L156.5 514.5 L159.5 512.5 L162.5 515.5 L165.5 517.5 L167.5 512.5 L169.5 510.5 L172.5 508.5 L175.5 506.5 L177.5 510.5 L180.5 515.5 L182.5 513.5 L184.5 510.5 L187.5 516.5 L190.5 514.5 L193.5 510.5 L196.5 512.5 L200.5 511.5 L202.5 505.5 L204.5 502.5 L206.5 502.5 L209.5 507.5 L211.5 509.5 L213.5 515.5 L216.5 522.5 L218.5 521.5 L221.5 525.5 L223.5 528.5 L224.5 527.5 L226.5 518.5 L228.5 516.5 L230.5 517.5 L232.5 518.5 L236.5 514.5 L240.5 517.5 L243.5 514.5 L246.5 510.5 L250.5 515.5 L254.5 514.5 L257.5 519.5 L260.5 523.5 L263.5 514.5 L266.5 512.5 L269.5 510.5 L272.5 508.5 L274.5 516.5 L276.5 520.5 L280.5 521.5 L282.5 516.5 L284.5 519.5 L286.5 522.5 L289.5 518.5 L293.5 519.5 L296.5 520.5 L298.5 522.5 L300.5 520.5 L303.5 523.5 L305.5 523.5 L307.5 516.5 L309.5 511.5 L311.5 510.5 L315.5 509.5 L318.5 504.5 L320.5 510.5 L323.5 510.5 L327.5 510.5 L330.5 515.5 L332.5 512.5 L334.5 514.5 L338.5 514.5 L340.5 514.5 L342.5 516.5 L344.5 512.5 L346.5 522.5 L348.5 524.5 L352.5 524.5 L355.5 526.5 L357.5 522.5 L359.5 511.5 L361.5 512.5 L363.5 510.5 L366.5 510.5 L368.5 516.5 L371.5 521.5 L373.5 522.5 L375.5 521.5 L378.5 520.5 L381.5 512.5 L383.5 510.5 L386.5 510.5 L389.5 512.5 L391.5 513.5 L393.5 516.5 L395.5 514.5 L399.5 516.5 L401.5 512.5 L403.5 510.5 L406.5 512.5 L409.5 514.5 L412.5 512.5 L414.5 511.5 L416.5 502.5 L418.5 511.5 L422.5 514.5 L425.5 510.5 L428.5 508.5 L430.5 511.5 L434.5 512.5 L437.5 514.5 L440.5 508.5 L442.5 512.5 L444.5 518.5 L448.5 514.5 L452.5 510.5 L456.5 502.5 L458.5 501.5 L460.5 500.5 L463.5 498.5 L466.5 498.5 L468.5 496.5 L471.5 498.5 L473.5 496.5 L475.5 500.5 L477.5 498.5 L480.5 502.5 L482.5 504.5 L484.5 508.5 L487.5 506.5 L489.5 507.5 L491.5 502.5 L493.5 497.5 L496.5 501.5 L499.5 498.5 L501.5 494.5 L504.5 492.5 L506.5 494.5 L508.5 493.5 L511.5 496.5 L513.5 499.5 L516.5 503.5 L518.5 502.5 L521.5 505.5 L525.5 508.5 L528.5 511.5 L531.5 509.5 L534.5 507.5 L538.5 508.5 L541.5 503.5 L543.5 501.5 L546.5 501.5 L548.5 509.5 L550.5 501.5 L552.5 497.5 L555.5 500.5 L557.5 500.5 L559.5 505.5 L561.5 502.5 L563.5 503.5 L566.5 500.5 L568.5 500.5 L570.5 502.5 L572.5 499.5 L574.5 497.5 L577.5 503.5 L580.5 505.5 L582.5 507.5 L585.5 503.5 L587.5 501.5 L590.5 504.5 L592.5 509.5 L594.5 517.5 L596.5 522.5 L598.5 526.5 L600.5 527.5 L602.5 524.5 L605.5 518.5 L607.5 516.5 L609.5 519.5 L611.5 517.5 L613.5 518.5 L616.5 520.5 L619.5 523.5 L621.5 524.5 L622.5 514.5 L623.5 520.5 L626.5 518.5 L629.5 517.5 L632.5 518.5 L634.5 516.5 L636.5 517.5 L638.5 516.5 L641.5 518.5 L642.5 514.5 L644.5 516.5 L647.5 516.5 L649.5 514.5 L651.5 516.5 L654.5 512.5 L656.5 514.5 L658.5 516.5 L660.5 518.5 L663.5 515.5 L666.5 510.5 L668.5 508.5 L671.5 504.5 L673.5 503.5 L675.5 506.5 L677.5 508.5 L680.5 506.5 L682.5 504.5 L684.5 506.5 L687.5 508.5 L689.5 510.5 L692.5 508.5 L694.5 512.5 L697.5 518.5 L700.5 516.5 L703.5 515.5 L705.5 510.5 L707.5 506.5 L709.5 508.5 L711.5 508.5 L714.5 507.5 L716.5 506.5 L718.5 513.5 L720.5 515.5 L723.5 514.5 L726.5 512.5 L729.5 508.5 L732.5 511.5 L735.5 512.5 L737.5 510.5 L738.5 510.5 L740.5 518.5 L742.5 508.5 L746.5 508.5 L749.5 508.5 L752.5 508.5 L755.5 504.5 L757.5 506.5 L759.5 509.5 L761.5 510.5 L763.5 512.5 L764.5 508.5 L766.5 515.5 L768.5 518.5 L771.5 520.5 L774.5 518.5 L777.5 516.5 L779.5 511.5 L781.5 509.5 L783.5 508.5 L786.5 508.5 L788.5 508.5 L790.5 515.5 L792.5 511.5 L795.5 512.5 L798.5 514.5 L800.5 510.5 L802.5 506.5 L805.5 510.5 L807.5 509.5 L809.5 506.5 L812.5 510.5 L814.5 514.5 L817.5 518.5 L820.5 518.5 L823.5 518.5 L825.5 516.5 L827.5 517.5 L829.5 520.5 L832.5 520.5 L835.5 522.5 L837.5 520.5 L838.5 516.5 L841.5 515.5 L843.5 515.5 L845.5 514.5 L847.5 516.5 L849.5 515.5 L852.5 518.5 L855.5 519.5 L857.5 518.5 L859.5 516.5 L861.5 520.5 L863.5 512.5 L865.5 514.5 L868.5 516.5 L871.5 515.5 L873.5 513.5 L875.5 523.5 L877.5 520.5 L879.5 522.5 L881.5 516.5 L883.5 511.5 L885.5 516.5 L887.5 518.5 L890.5 518.5 L892.5 518.5 L894.5 516.5 L896.5 520.5 L898.5 523.5 L901.5 520.5 L903.5 518.5 L905.5 513.5 L907.5 516.5 L908.5 518.5 L910.5 504.5 L912.5 503.5 L915.5 504.5 L918.5 504.5 L920.5 503.5 L921.5 505.5 L922.5 514.5 L924.5 511.5 L928.5 510.5" fill="none" stroke="#1e90ff" stroke-width="1" stroke-linejoin="round" shape-rendering="crispEdges"/>
</svg>
<svg class="a" style="left:6px;top:27px" width="10" height="8"><path d="M0.8 5.9 L4.5 2 L8.2 5.9 Z" fill="#000"/></svg>
<span class="t" style="left:18.5px;top:27px;font-size:10px;letter-spacing:-0.292px;color:#000;">USDCHF-,H4&nbsp; 0.91628 0.91630 0.91626 0.91626</span>
<div class="a" style="left:7px;top:42px;width:52px;height:25px;background:linear-gradient(#f95454,#dc3232)"></div>
<div class="a" style="left:174px;top:42px;width:52px;height:25px;background:linear-gradient(#f95454,#dc3232)"></div>
<div class="a" style="left:7px;top:66px;width:109px;height:33px;background:linear-gradient(#d82a2a,#b00000)"></div>
<div class="a" style="left:118px;top:66px;width:108px;height:33px;background:linear-gradient(#d82a2a,#b00000)"></div>
<div class="a" style="left:116px;top:66px;width:2px;height:33px;background:#fff"></div>
<div class="a" style="left:11px;top:65px;width:44px;height:1px;background:#a01010"></div>
<div class="a" style="left:11px;top:66px;width:44px;height:1px;background:#f06060"></div>
<div class="a" style="left:178px;top:65px;width:44px;height:1px;background:#a01010"></div>
<div class="a" style="left:178px;top:66px;width:44px;height:1px;background:#f06060"></div>
<div class="a" style="left:59px;top:42px;width:115px;height:24px;background:#fff"></div>
<div class="a" style="left:61px;top:42px;width:112px;height:22px;background:#fff;border:1px solid #b4b8c0"></div>
<div class="a" style="left:62px;top:43px;width:20px;height:20px;background:linear-gradient(#eeeeee 0%,#e0e0e0 45%,#cfcfcf 50%,#d6d6d6 100%);border:1px solid #c0c0c0"></div>
<div class="a" style="left:151px;top:43px;width:21px;height:20px;background:linear-gradient(#eeeeee 0%,#e0e0e0 45%,#cfcfcf 50%,#d6d6d6 100%);border:1px solid #c0c0c0"></div>
<svg class="a" style="left:67px;top:49px" width="10" height="8"><path d="M2 2.5 L8 2.5 L5 5.8 Z" fill="#4a5fb0"/></svg>
<svg class="a" style="left:156px;top:49px" width="10" height="8"><path d="M2 5.8 L8 5.8 L5 2.5 Z" fill="#4a5fb0"/></svg>
<span class="t" style="left:123px;top:47.4px;font-size:12px;letter-spacing:0.5px">3.00</span>
<span class="t" style="left:18.6px;top:48px;font-size:12px;color:#fff;letter-spacing:-0.75px">SELL</span>
<span class="t" style="left:186.8px;top:48px;font-size:12px;color:#fff;letter-spacing:0.3px">BUY</span>
<span class="t" style="left:26.6px;top:84.6px;font-size:11px;font-weight:bold;color:#fff;letter-spacing:0.8px">0.91</span>
<span class="t" style="left:136.6px;top:84.6px;font-size:11px;font-weight:bold;color:#fff;letter-spacing:0.8px">0.91</span>
<span class="t" style="left:53.4px;top:65px;font-size:35px;color:#fff;letter-spacing:-2px">62</span>
<span class="t" style="left:164px;top:65px;font-size:35px;color:#fff;letter-spacing:-2px">65</span>
<span class="t" style="left:93.5px;top:68px;font-size:12px;font-weight:bold;color:#fff">6</span>
<span class="t" style="left:204.8px;top:68px;font-size:12px;font-weight:bold;color:#fff">0</span>
<div class="a" style="left:1167px;top:35px;width:2px;height:1px;background:#000"></div>
<span class="ax" style="top:30.4px">0.93775</span>
<div class="a" style="left:1167px;top:68px;width:2px;height:1px;background:#000"></div>
<span class="ax" style="top:63.4px">0.93505</span>
<div class="a" style="left:1167px;top:101px;width:2px;height:1px;background:#000"></div>
<span class="ax" style="top:96.4px">0.93235</span>
<div class="a" style="left:1167px;top:134px;width:2px;height:1px;background:#000"></div>
<span class="ax" style="top:129.4px">0.92965</span>
<div class="a" style="left:1167px;top:167px;width:2px;height:1px;background:#000"></div>
<span class="ax" style="top:162.4px">0.92695</span>
<div class="a" style="left:1167px;top:200px;width:2px;height:1px;background:#000"></div>
<div class="a" style="left:1167px;top:233px;width:2px;height:1px;background:#000"></div>
<span class="ax" style="top:228.4px">0.92155</span>
<div class="a" style="left:1167px;top:266px;width:2px;height:1px;background:#000"></div>
<span class="ax" style="top:261.4px">0.91885</span>
<div class="a" style="left:1167px;top:299px;width:2px;height:1px;background:#000"></div>
<div class="a" style="left:1167px;top:332px;width:2px;height:1px;background:#000"></div>
<span class="ax" style="top:327.4px">0.91350</span>
<div class="a" style="left:1167px;top:365px;width:2px;height:1px;background:#000"></div>
<span class="ax" style="top:360.4px">0.91080</span>
<div class="a" style="left:1167px;top:398px;width:2px;height:1px;background:#000"></div>
<span class="ax" style="top:393.4px">0.90810</span>
<div class="pl" style="top:123px;background:#ff0000">0.93006</div>
<div class="pl" style="top:197px;background:#ff0000">0.92403</div>
<div class="pl" style="top:271px;background:#00ff00">0.91800</div>
<div class="pl" style="top:293px;background:#000000">0.91626</div>
<div class="pl" style="top:344px;background:#0000ff">0.91206</div>
<span class="ax" style="top:406px;left:1170px">0.003811</span>
<div class="a" style="left:1167px;top:441px;width:2px;height:1px;background:#000"></div>
<span class="ax" style="top:436px;left:1170px">0.00</span>
<span class="ax" style="top:461px;left:1170px">-0.003115</span>
<span class="ax" style="top:477px;left:1170px">100</span>
<span class="ax" style="top:492px;left:1170px">70</span>
<span class="ax" style="top:519.5px;left:1170px">30</span>
<span class="ax" style="top:535px;left:1170px">0</span>
<span class="t" style="left:8px;top:408px;font-size:10px;letter-spacing:-0.321px;color:#000;">MACD(12,26,9) 0.000265 0.000215</span>
<span class="t" style="left:8px;top:479px;font-size:10px;letter-spacing:-0.325px;color:#000;">RSI(14) 50.7830</span>
<div class="a" style="left:4px;top:547px;width:1px;height:3px;background:#000"></div>
<span class="t" style="left:3px;top:552px;font-size:10px;letter-spacing:-0.429px;color:#000;">20 Sep 2021</span>
<div class="a" style="left:68px;top:547px;width:1px;height:3px;background:#000"></div>
<span class="t" style="left:67px;top:552px;font-size:10px;letter-spacing:-0.392px;color:#000;">27 Sep 08:00</span>
<div class="a" style="left:132px;top:547px;width:1px;height:3px;background:#000"></div>
<span class="t" style="left:131px;top:552px;font-size:10px;letter-spacing:-0.282px;color:#000;">4 Oct 16:00</span>
<div class="a" style="left:196px;top:547px;width:1px;height:3px;background:#000"></div>
<span class="t" style="left:195px;top:552px;font-size:10px;letter-spacing:-0.205px;color:#000;">12 Oct 00:00</span>
<div class="a" style="left:260px;top:547px;width:1px;height:3px;background:#000"></div>
<span class="t" style="left:259px;top:552px;font-size:10px;letter-spacing:-0.205px;color:#000;">19 Oct 08:00</span>
<div class="a" style="left:324px;top:547px;width:1px;height:3px;background:#000"></div>
<span class="t" style="left:323px;top:552px;font-size:10px;letter-spacing:-0.205px;color:#000;">26 Oct 16:00</span>
<div class="a" style="left:388px;top:547px;width:1px;height:3px;background:#000"></div>
<span class="t" style="left:387px;top:552px;font-size:10px;letter-spacing:-0.266px;color:#000;">3 Nov 00:00</span>
<div class="a" style="left:452px;top:547px;width:1px;height:3px;background:#000"></div>
<span class="t" style="left:451px;top:552px;font-size:10px;letter-spacing:-0.357px;color:#000;">10 Nov 08:00</span>
<div class="a" style="left:516px;top:547px;width:1px;height:3px;background:#000"></div>
<span class="t" style="left:515px;top:552px;font-size:10px;letter-spacing:-0.357px;color:#000;">17 Nov 16:00</span>
<div class="a" style="left:580px;top:547px;width:1px;height:3px;background:#000"></div>
<span class="t" style="left:579px;top:552px;font-size:10px;letter-spacing:-0.357px;color:#000;">25 Nov 00:00</span>
<div class="a" style="left:644px;top:547px;width:1px;height:3px;background:#000"></div>
<span class="t" style="left:643px;top:552px;font-size:10px;letter-spacing:-0.266px;color:#000;">2 Dec 08:00</span>
<div class="a" style="left:708px;top:547px;width:1px;height:3px;background:#000"></div>
<span class="t" style="left:707px;top:552px;font-size:10px;letter-spacing:-0.266px;color:#000;">9 Dec 16:00</span>
<div class="a" style="left:772px;top:547px;width:1px;height:3px;background:#000"></div>
<span class="t" style="left:771px;top:552px;font-size:10px;letter-spacing:-0.357px;color:#000;">17 Dec 00:00</span>
<div class="a" style="left:836px;top:547px;width:1px;height:3px;background:#000"></div>
<span class="t" style="left:835px;top:552px;font-size:10px;letter-spacing:-0.357px;color:#000;">24 Dec 08:00</span>
<div class="a" style="left:900px;top:547px;width:1px;height:3px;background:#000"></div>
<span class="t" style="left:899px;top:552px;font-size:10px;letter-spacing:-0.357px;color:#000;">31 Dec 16:00</span>
<div class="a" style="left:0;top:567px;width:1208px;height:1px;background:#dcdcdc"></div>
<div class="a" style="left:0;top:568px;width:1208px;height:1px;background:#f4f4f4"></div>
<div class="a" style="left:0;top:569px;width:1208px;height:20px;background:#f0f0f0"></div>
<div class="a" style="left:0;top:569px;width:1208px;height:1px;background:#000"></div>
<div class="a" style="left:0;top:569px;width:1px;height:19px;background:#696969"></div>
<div class="a" style="left:1px;top:570px;width:1px;height:18px;background:#fafafa"></div>
<div class="a" style="left:0;top:589px;width:1208px;height:4px;background:#fff"></div>
<div class="a" style="left:0;top:593px;width:1208px;height:1px;background:#a0a0a0"></div>
<div class="a" style="left:0;top:594px;width:1208px;height:1px;background:#e8e8e8"></div>
<div class="a" style="left:321px;top:569px;width:96px;height:19px;background:#fff;border:1px solid #000;border-top:none;border-bottom-width:2px"></div>
<span class="t" style="left:16px;top:573px;font-size:13px;letter-spacing:-0.42px;color:#7b7b7b;">USDX,Weekly</span>
<span class="t" style="left:115.3px;top:573px;font-size:13px;letter-spacing:-0.479px;color:#7b7b7b;">EURUSD-,Daily</span>
<span class="t" style="left:222.9px;top:573px;font-size:13px;letter-spacing:-0.349px;color:#7b7b7b;">AUDUSD-,Daily</span>
<span class="t" style="left:333px;top:573px;font-size:13px;letter-spacing:-0.703px;color:#000;">USDCHF-,H4</span>
<span class="t" style="left:427.5px;top:573px;font-size:13px;letter-spacing:-0.403px;color:#7b7b7b;">USDCAD-,Daily</span>
<span class="t" style="left:536.8px;top:573px;font-size:13px;letter-spacing:-0.327px;color:#7b7b7b;">USDCNH-,Daily</span>
<span class="t" style="left:647.7px;top:573px;font-size:13px;letter-spacing:-0.394px;color:#7b7b7b;">XAUUSD-,Daily</span>
<span class="t" style="left:755.4px;top:573px;font-size:13px;letter-spacing:-0.145px;color:#7b7b7b;">UKOil-,H4</span>
<span class="t" style="left:836.6px;top:573px;font-size:13px;letter-spacing:-0.299px;color:#7b7b7b;">DJ30-,Daily</span>
<span class="t" style="left:924.4px;top:573px;font-size:13px;letter-spacing:-0.423px;color:#7b7b7b;">UK100-,H1</span>
<div class="sep" style="left:106px"></div>
<div class="sep" style="left:213px"></div>
<div class="sep" style="left:525px"></div>
<div class="sep" style="left:637px"></div>
<div class="sep" style="left:745px"></div>
<div class="sep" style="left:825px"></div>
<div class="sep" style="left:913px"></div>
<div class="sep" style="left:997px"></div>
<svg class="a" style="left:1178px;top:573px" width="30" height="12"><path d="M7.6 1.6 L3.8 5.2 L7.6 8.8 Z" fill="#a0a0a0"/><path d="M23 1.6 L26.8 5.2 L23 8.8 Z" fill="#a0a0a0"/></svg>
</body></html>
